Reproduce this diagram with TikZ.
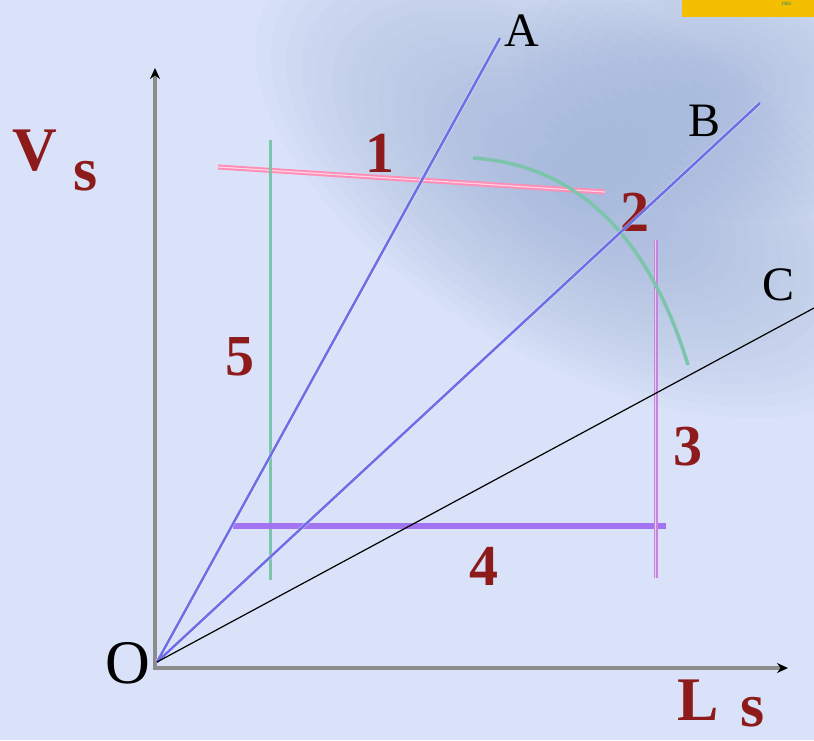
\documentclass[tikz,border=0pt]{standalone}
\usepackage{fontspec}
\setmainfont{Liberation Serif}
\usetikzlibrary{arrows.meta}
\definecolor{bgblue}{HTML}{D9E2F8}
\definecolor{haze}{HTML}{93A9D2}
\definecolor{lblred}{HTML}{8E1B1B}
\definecolor{rayblue}{HTML}{6E6EE6}
\definecolor{pinkline}{HTML}{FF8DB6}
\definecolor{tealline}{HTML}{7CC4AC}
\definecolor{mauveline}{HTML}{C585DC}
\definecolor{violetline}{HTML}{A274F2}
\definecolor{axisgray}{HTML}{8C8C8C}
\definecolor{logoyellow}{HTML}{F4BF00}
\tikzset{
  axisline/.style={axisgray, line width=3.5pt, -{Stealth[black,length=11pt,width=10pt]}},
  ray/.style={rayblue, line width=2.5pt},
  numlabel/.style={lblred, inner sep=0pt, font=\fontsize{58}{58}\selectfont\bfseries},
  varlabel/.style={lblred, inner sep=0pt, font=\fontsize{62}{62}\selectfont\bfseries},
  ptlabel/.style={black, inner sep=0pt, font=\fontsize{48}{48}\selectfont},
}
\begin{document}
\begin{tikzpicture}[x=1pt,y=-1pt]
  \useasboundingbox (0,0) rectangle (814,740);
  \begin{scope}
    \clip (0,0) rectangle (814,740);
    \fill[bgblue] (0,0) rectangle (814,740);
    \foreach \k in {1,...,20}
      \fill[haze, opacity=.045, rotate around={-30:(580,180)}]
        (580,180) ellipse ({20+\k*17} and {10+\k*8.5});
    \foreach \k in {1,...,14}
      \fill[haze, opacity=.045, rotate around={-10:(720,80)}]
        (720,80) ellipse ({15+\k*14} and {10+\k*9});
    \fill[logoyellow] (682,0) rectangle (814,17);
    \node[teal, font=\tiny] (logotext) at (786,4) {1902};
  \end{scope}

  \coordinate (corner) at (155,668);
  \coordinate (ytip) at (155,68);
  \coordinate (xtip) at (788,668);
  \coordinate (o) at (157,662);
  \coordinate (a) at (500,38);
  \coordinate (b) at (760,103);
  \coordinate (c) at (814,308);

  \draw[axisline] ([yshift=-1.75pt]corner) -- (ytip);
  \draw[axisline] ([xshift=-1.75pt]corner) -- (xtip);

  \coordinate (pinkL) at (218,167);
  \coordinate (pinkR) at (605,192);
  \coordinate (tealT) at (270,140);
  \coordinate (tealB) at (270,580);
  \coordinate (mauveT) at (656,240);
  \coordinate (mauveB) at (656,578);
  \coordinate (violetL) at (233,526);
  \coordinate (violetR) at (666,526);
  \coordinate (arcS) at (473,158);
  \coordinate (arcE) at (688,365);

  \draw[pinkline, line width=5pt] (pinkL) -- (pinkR);
  \draw[white, line width=1.2pt, opacity=.6] (pinkL) -- (pinkR);
  \draw[tealline, line width=3pt] (tealT) -- (tealB);
  \draw[violetline, line width=6pt] (violetL) -- (violetR);
  \draw[mauveline, line width=4pt] (mauveT) -- (mauveB);
  \draw[white, line width=.8pt, opacity=.6] ([xshift=-1pt]mauveT) -- ([xshift=-1pt]mauveB);
  \draw[tealline, line width=3.5pt] (arcS) .. controls (580,165) and (650,240) .. (arcE);

  \node[varlabel] (vlab) at (35,151) {V};
  \node[varlabel] (vsub) at (86,176) {s};
  \node[varlabel] (llab) at (698,700) {L};
  \node[varlabel] (lsub) at (753,712) {s};
  \foreach \n/\x/\y in {1/380/153, 2/635/212, 3/688/447, 4/484/566, 5/240/357}
    \node[numlabel] (num\n) at (\x,\y) {\n};

  \draw[white, line width=4pt, opacity=.4] (o) -- (a);
  \draw[white, line width=4pt, opacity=.4] (o) -- (b);
  \draw[ray] (o) -- (a);
  \draw[ray] (o) -- (b);
  \draw[black, line width=1.2pt] (o) -- (c);

  \node[ptlabel, font=\fontsize{62}{62}\selectfont] (olab) at (128,663) {O};
  \node[ptlabel] (alab) at (522,31) {A};
  \node[ptlabel] (blab) at (704,121) {B};
  \node[ptlabel] (clab) at (778,285) {C};
\end{tikzpicture}
\end{document}
